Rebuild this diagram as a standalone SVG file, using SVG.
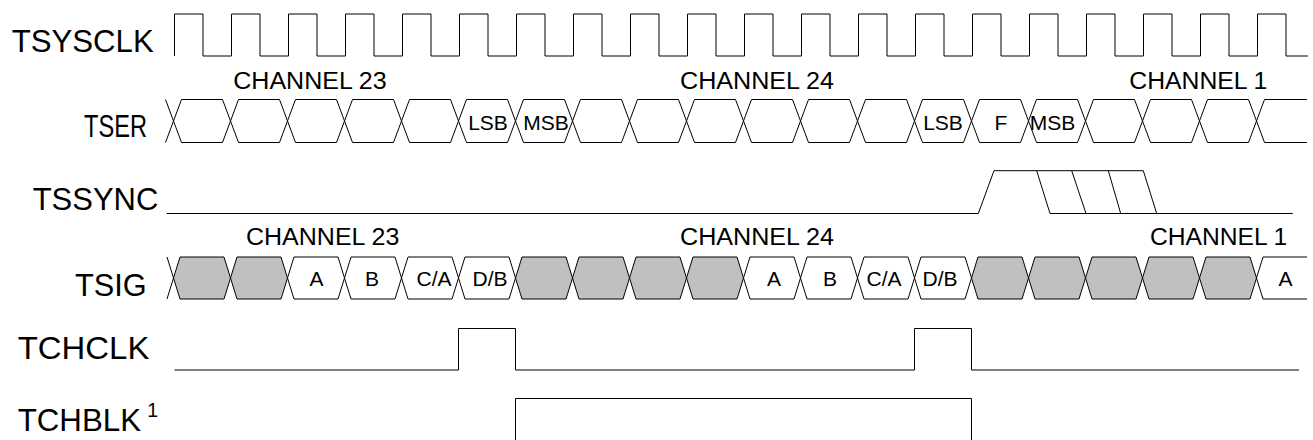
<svg xmlns="http://www.w3.org/2000/svg" xmlns:xlink="http://www.w3.org/1999/xlink" width="1313" height="440" viewBox="0 0 1313 440">
<style>
.w{fill:none;stroke:#000;stroke-width:1;stroke-linejoin:round}
.lbl{font-family:"Liberation Sans",Arial,sans-serif;fill:#000}
.sig{font-size:31px}
.ch{font-size:24.5px}
.cell{font-size:21px;text-anchor:middle}
.g{fill:#c0c0c0;stroke:#000;stroke-width:1;stroke-linejoin:round}
.wh{fill:#fff;stroke:#000;stroke-width:1;stroke-linejoin:round}
</style>
<defs>
<polygon id="hs" points="0,0 8,-21.5 49,-21.5 57,0 49,21.5 8,21.5"/>
<polygon id="hg" points="0,0 6.5,-21 50.5,-21 57,0 50.5,21 6.5,21"/>
</defs>
<rect width="1313" height="440" fill="#fff"/>

<g id="tsysclk">
<text class="lbl sig" x="11.7" y="52.3" font-size="29" textLength="142" lengthAdjust="spacingAndGlyphs">TSYSCLK</text>
<path class="w" d="M174.5 56V14H203V56H231.5V14H260V56H288.5V14H317V56H345.5V14H374V56H402.5V14H431V56H459.5V14H488V56H516.5V14H545V56H573.5V14H602V56H630.5V14H659V56H687.5V14H716V56H744.5V14H773V56H801.5V14H830V56H858.5V14H887V56H915.5V14H944V56H972.5V14H1001V56H1029.5V14H1058V56H1086.5V14H1115V56H1143.5V14H1172V56H1200.5V14H1229V56H1257.5V14H1286V56H1308"/>
</g>

<g id="tser">
<text class="lbl sig" x="84" y="137" textLength="63" lengthAdjust="spacingAndGlyphs">TSER</text>
<text class="lbl ch" x="233.3" y="89" textLength="153.4" lengthAdjust="spacingAndGlyphs">CHANNEL 23</text>
<text class="lbl ch" x="680" y="89" textLength="154" lengthAdjust="spacingAndGlyphs">CHANNEL 24</text>
<text class="lbl ch" x="1129.3" y="89" textLength="138" lengthAdjust="spacingAndGlyphs">CHANNEL 1</text>
<g class="wh" transform="translate(0,121)">
<use xlink:href="#hs" x="173.5"/><use xlink:href="#hs" x="230.5"/><use xlink:href="#hs" x="287.5"/><use xlink:href="#hs" x="344.5"/><use xlink:href="#hs" x="401.5"/><use xlink:href="#hs" x="458.5"/><use xlink:href="#hs" x="515.5"/><use xlink:href="#hs" x="572.5"/><use xlink:href="#hs" x="629.5"/><use xlink:href="#hs" x="686.5"/><use xlink:href="#hs" x="743.5"/><use xlink:href="#hs" x="800.5"/><use xlink:href="#hs" x="857.5"/><use xlink:href="#hs" x="914.5"/><use xlink:href="#hs" x="971.5"/><use xlink:href="#hs" x="1028.5"/><use xlink:href="#hs" x="1085.5"/><use xlink:href="#hs" x="1142.5"/><use xlink:href="#hs" x="1199.5"/>
</g>
<path class="w" d="M165.5 99.5L173.5 121L165.5 142.5M1307 99.5H1264.5L1256.5 121L1264.5 142.5H1307"/>
<text class="lbl cell" x="488" y="129.5">LSB</text>
<text class="lbl cell" x="546" y="129.5">MSB</text>
<text class="lbl cell" x="943" y="129.5">LSB</text>
<text class="lbl cell" x="1001" y="129.5">F</text>
<text class="lbl cell" x="1052.5" y="129.5">MSB</text>
</g>

<g id="tssync">
<text class="lbl sig" x="32.7" y="210" textLength="125.6" lengthAdjust="spacingAndGlyphs">TSSYNC</text>
<path class="w" d="M166.7 213.5H978.3L994 170.7H1143.3L1156.7 213.5H1292.7M1036.7 170.7L1050 213.5H1156.7M1071.7 170.7L1086 213.5M1108.3 170.7L1120.7 213.5"/>
</g>

<g id="tsig">
<text class="lbl sig" x="75" y="295.7" font-size="33" textLength="71.7" lengthAdjust="spacingAndGlyphs">TSIG</text>
<text class="lbl ch" x="246" y="245.3" textLength="153.3" lengthAdjust="spacingAndGlyphs">CHANNEL 23</text>
<text class="lbl ch" x="680" y="245.3" textLength="154" lengthAdjust="spacingAndGlyphs">CHANNEL 24</text>
<text class="lbl ch" x="1150" y="245.3" textLength="137.3" lengthAdjust="spacingAndGlyphs">CHANNEL 1</text>
<g transform="translate(0,278)">
<use class="g" xlink:href="#hg" x="173.5"/><use class="g" xlink:href="#hg" x="230.5"/>
<use class="wh" xlink:href="#hg" x="287.5"/><use class="wh" xlink:href="#hg" x="344.5"/><use class="wh" xlink:href="#hg" x="401.5"/><use class="wh" xlink:href="#hg" x="458.5"/>
<use class="g" xlink:href="#hg" x="515.5"/><use class="g" xlink:href="#hg" x="572.5"/><use class="g" xlink:href="#hg" x="629.5"/><use class="g" xlink:href="#hg" x="686.5"/>
<use class="wh" xlink:href="#hg" x="743.5"/><use class="wh" xlink:href="#hg" x="800.5"/><use class="wh" xlink:href="#hg" x="857.5"/><use class="wh" xlink:href="#hg" x="914.5"/>
<use class="g" xlink:href="#hg" x="971.5"/><use class="g" xlink:href="#hg" x="1028.5"/><use class="g" xlink:href="#hg" x="1085.5"/><use class="g" xlink:href="#hg" x="1142.5"/><use class="g" xlink:href="#hg" x="1199.5"/>
</g>
<path class="w" d="M167 257L173.5 278L167 299M1307 257H1263L1256.5 278L1263 299H1307"/>
<text class="lbl cell" font-size="22" x="316.5" y="285.5">A</text>
<text class="lbl cell" font-size="22" x="372" y="285.5">B</text>
<text class="lbl cell" font-size="22" x="434" y="285.5">C/A</text>
<text class="lbl cell" font-size="22" x="490" y="285.5">D/B</text>
<text class="lbl cell" font-size="22" x="774" y="285.5">A</text>
<text class="lbl cell" font-size="22" x="830" y="285.5">B</text>
<text class="lbl cell" font-size="22" x="884" y="285.5">C/A</text>
<text class="lbl cell" font-size="22" x="940" y="285.5">D/B</text>
<text class="lbl cell" font-size="22" x="1285.5" y="285.5">A</text>
</g>

<g id="tchclk">
<text class="lbl sig" x="17.7" y="359.3" font-size="33" textLength="131.7" lengthAdjust="spacingAndGlyphs">TCHCLK</text>
<path class="w" d="M174.5 370H458.5V328.5H515.5V370H914.5V328.5H971.5V370H1299"/>
</g>

<g id="tchblk">
<text class="lbl sig" x="17.7" y="430.7" font-size="32" textLength="123.3" lengthAdjust="spacingAndGlyphs">TCHBLK</text>
<text class="lbl" x="147.3" y="417.3" font-size="19.5">1</text>
<path class="w" d="M515.5 440V398.5H971.5V440"/>
</g>
</svg>
